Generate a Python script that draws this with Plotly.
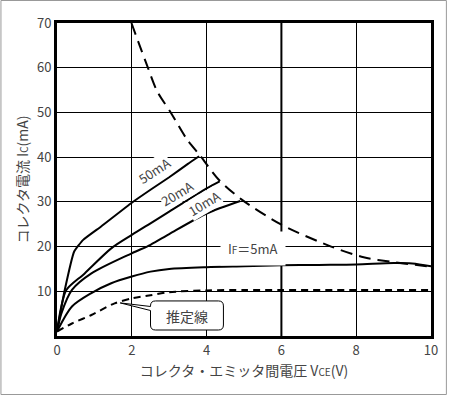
import plotly.graph_objects as go

# ---- data ----
v_50 = [0, 0.2, 0.46, 0.7, 1.18, 2.0, 2.5, 3.0, 3.5, 3.8]
i_50 = [1, 10, 18.9, 21.5, 24.5, 29.8, 32.7, 35.5, 38.5, 40.2]

v_20 = [0, 0.1, 0.25, 0.74, 1.45, 2.0, 2.5, 3.0, 4.0, 4.35]
i_20 = [1, 6, 10.3, 14, 19.6, 22.6, 25.2, 27.8, 33.0, 34.6]

v_10 = [0, 0.12, 0.4, 0.92, 2.0, 2.5, 3.0, 4.0, 4.9]
i_10 = [1, 5.1, 10.3, 14, 18.5, 20.4, 22.8, 27.4, 30.2]

v_5 = [0, 0.4, 0.92, 1.45, 2.0, 2.5, 3.0, 4.0, 5.0, 6.0, 7.0, 8.0, 9.0, 9.5, 10.0]
i_5 = [1, 6.6, 9.6, 11.8, 13.3, 14.4, 15.0, 15.4, 15.6, 15.8, 15.9, 16.0, 16.3, 16.2, 15.6]

v_est = [0, 0.4, 0.92, 1.54, 2.0, 2.5, 3.0, 4.0, 5.0, 6.0, 8.0, 10.0]
i_est = [1, 2.8, 4.7, 7.3, 8.4, 9.1, 9.8, 10.2, 10.3, 10.3, 10.3, 10.3]

v_pc = [1.99, 2.43, 2.68, 3.04, 3.48, 3.83, 4.32, 4.94, 6.0, 7.33, 8.2, 8.93, 10.0]
i_pc = [70, 60, 54.7, 50.0, 43.9, 40.3, 35.0, 30.5, 24.9, 20.0, 17.6, 16.6, 15.5]

x_ticks = [0, 2, 4, 6, 8, 10]
y_ticks = [10, 20, 30, 40, 50, 60, 70]

FONT = "Noto Sans CJK JP"
TXT = "#444444"

fig = go.Figure()
fig.add_trace(go.Scatter(x=v_50, y=i_50, mode="lines",
                         line=dict(color="black", width=2, shape="spline", smoothing=0.4),
                         hoverinfo="skip"))
for vx, iy in [(v_20, i_20), (v_10, i_10), (v_5, i_5)]:
    fig.add_trace(go.Scatter(x=vx, y=iy, mode="lines",
                             line=dict(color="black", width=2, shape="spline", smoothing=0.8),
                             hoverinfo="skip"))
fig.add_trace(go.Scatter(x=v_est, y=i_est, mode="lines",
                         line=dict(color="black", width=2, dash="7px,5px",
                                   shape="spline", smoothing=0.8), hoverinfo="skip"))
fig.add_trace(go.Scatter(x=v_pc, y=i_pc, mode="lines",
                         line=dict(color="black", width=2, dash="12px,7px",
                                   shape="spline", smoothing=0.8), hoverinfo="skip"))

# thicker vertical line at 6 V
fig.add_shape(type="line", xref="x", yref="y", x0=6, x1=6, y0=0, y1=70,
              line=dict(color="black", width=2), layer="below")

# callout box for 推定線
path = ("M 2.633,7.84 L 4.317,7.84 Q 4.45,7.84 4.45,6.72 L 4.45,2.46 "
        "Q 4.45,1.34 4.317,1.34 L 2.633,1.34 Q 2.5,1.34 2.5,2.46 L 2.5,5.7 "
        "L 1.69,7.4 L 2.5,6.6 L 2.5,6.72 Q 2.5,7.84 2.633,7.84 Z")
fig.add_shape(type="path", xref="x", yref="y", path=path,
              fillcolor="white", line=dict(color="black", width=1))

ann_font = dict(family=FONT, size=13, color=TXT)
fig.add_annotation(x=3.47, y=4.5, text="推定線", showarrow=False,
                   font=dict(family=FONT, size=14, color=TXT))
fig.add_annotation(x=2.6, y=37.0, text="50mA", showarrow=False, textangle=-33,
                   font=ann_font, bgcolor="white", borderpad=1)
fig.add_annotation(x=3.2, y=31.8, text="20mA", showarrow=False, textangle=-31,
                   font=ann_font, bgcolor="white", borderpad=0)
fig.add_annotation(x=3.92, y=29.6, text="10mA", showarrow=False, textangle=-31,
                   font=ann_font, bgcolor="white", borderpad=0)
fig.add_annotation(x=5.25, y=19.6,
                   text="I<span style='font-size:10px'>F</span>＝5mA",
                   showarrow=False, font=ann_font, bgcolor="white", borderpad=7)

W, H = 450, 395
ml, mr, mt, mb = 57, 16, 23, 59
pw, ph = W - ml - mr, H - mt - mb
fig.add_shape(type="rect", xref="paper", yref="paper",
              x0=(-ml + 0.5) / pw, x1=1 + (mr - 0.5) / pw,
              y0=(-mb + 0.5) / ph, y1=1 + (mt - 0.5) / ph,
              line=dict(color="#999999", width=1))

fig.update_layout(
    width=W, height=H,
    margin=dict(l=ml, r=mr, t=mt, b=mb),
    paper_bgcolor="white", plot_bgcolor="white",
    showlegend=False,
    font=dict(family=FONT, size=13, color=TXT),
    xaxis=dict(range=[0, 10], tickvals=x_ticks, ticktext=[str(t) for t in x_ticks],
               showgrid=True, gridcolor="black", gridwidth=1,
               showline=True, linecolor="black", linewidth=3, mirror=True,
               zeroline=False, ticks="", ticklen=0,
               tickfont=dict(family=FONT, size=13, color=TXT),
               title=dict(text="コレクタ・エミッタ間電圧 V<span style='font-size:10px'>CE</span>(V)",
                          font=dict(family=FONT, size=14, color=TXT), standoff=9)),
    yaxis=dict(range=[0, 70], tickvals=y_ticks, ticktext=[str(t) for t in y_ticks],
               showgrid=True, gridcolor="black", gridwidth=1,
               showline=True, linecolor="black", linewidth=3, mirror=True,
               zeroline=False, ticks="", ticklen=0,
               tickfont=dict(family=FONT, size=13, color=TXT),
               title=dict(text="コレクタ電流 I<span style='font-size:10px'>C</span>(mA)",
                          font=dict(family=FONT, size=14, color=TXT), standoff=6)),
)

fig.write_html("out.html", config={"displayModeBar": False},
               post_script="document.body.style.margin='0';")
